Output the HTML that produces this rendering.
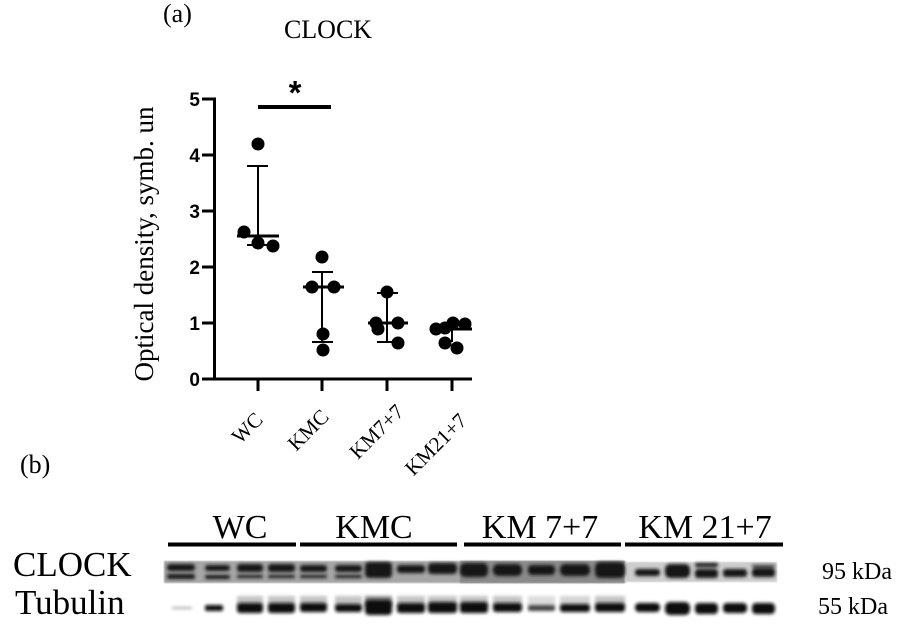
<!DOCTYPE html>
<html><head><meta charset="utf-8"><style>
html,body{margin:0;padding:0;background:#fff;}
svg{display:block;}
text{font-family:"Liberation Serif",serif;fill:#000;}
.s{font-family:"Liberation Sans",sans-serif;font-weight:bold;}
</style></head><body>
<svg width="902" height="631" viewBox="0 0 902 631" xmlns="http://www.w3.org/2000/svg">
<defs>
<filter id="b" x="-30%" y="-80%" width="160%" height="260%"><feGaussianBlur stdDeviation="1.6"/></filter>
<filter id="b2" x="-30%" y="-80%" width="160%" height="260%"><feGaussianBlur stdDeviation="0.8"/></filter>
</defs>
<rect width="902" height="631" fill="#fff"/>

<!-- panel a -->
<text x="163" y="22" font-size="26">(a)</text>
<text x="328" y="38" font-size="26" text-anchor="middle">CLOCK</text>
<text transform="translate(153,244) rotate(-90)" font-size="27" text-anchor="middle">Optical density, symb. un</text>

<g class="s" font-size="19" text-anchor="end">
<text class="s" x="200" y="106">5</text>
<text class="s" x="200" y="162">4</text>
<text class="s" x="200" y="218">3</text>
<text class="s" x="200" y="274">2</text>
<text class="s" x="200" y="330">1</text>
<text class="s" x="200" y="386">0</text>
</g>
<g stroke="#000" stroke-width="3" fill="none">
<line x1="214.5" y1="97.5" x2="214.5" y2="380.5"/>
<line x1="213" y1="379" x2="472" y2="379"/>
<line x1="202" y1="99" x2="214" y2="99"/>
<line x1="202" y1="155" x2="214" y2="155"/>
<line x1="202" y1="211" x2="214" y2="211"/>
<line x1="202" y1="267" x2="214" y2="267"/>
<line x1="202" y1="323" x2="214" y2="323"/>
<line x1="202" y1="379" x2="214" y2="379"/>
<line x1="258" y1="379" x2="258" y2="391"/>
<line x1="322" y1="379" x2="322" y2="391"/>
<line x1="387" y1="379" x2="387" y2="391"/>
<line x1="452" y1="379" x2="452" y2="391"/>
</g>

<g font-size="21" text-anchor="end">
<text transform="translate(264,421) rotate(-45)">WC</text>
<text transform="translate(330,418) rotate(-45)">KMC</text>
<text transform="translate(405,413) rotate(-45)">KM7+7</text>
<text transform="translate(468,422) rotate(-45)">KM21+7</text>
</g>

<!-- significance -->
<line x1="258" y1="107" x2="331" y2="107" stroke="#000" stroke-width="4"/>
<text class="s" x="295" y="104" font-size="33" text-anchor="middle">*</text>

<!-- error bars -->
<g stroke="#000" stroke-width="2" fill="none">
<line x1="258" y1="166" x2="258" y2="245"/>
<line x1="247" y1="166" x2="268" y2="166"/>
<line x1="247" y1="245" x2="268" y2="245"/>
<line x1="322" y1="272" x2="322" y2="342"/>
<line x1="312" y1="272" x2="333" y2="272"/>
<line x1="312" y1="342" x2="333" y2="342"/>
<line x1="387" y1="293" x2="387" y2="342"/>
<line x1="377" y1="293" x2="398" y2="293"/>
<line x1="377" y1="342" x2="398" y2="342"/>
<line x1="452" y1="322" x2="452" y2="342"/>
</g>
<g stroke="#000" stroke-width="3">
<line x1="237" y1="236" x2="279" y2="236"/>
<line x1="303" y1="287" x2="344" y2="287"/>
<line x1="368" y1="323" x2="408" y2="323"/>
<line x1="433" y1="329" x2="472" y2="329"/>
</g>
<g fill="#000">
<circle cx="258" cy="144" r="6.5"/>
<circle cx="244" cy="232" r="6.5"/>
<circle cx="258" cy="243" r="6.5"/>
<circle cx="273" cy="246" r="6.5"/>
<circle cx="322" cy="257" r="6.5"/>
<circle cx="312" cy="287" r="6.5"/>
<circle cx="334" cy="287" r="6.5"/>
<circle cx="323" cy="334" r="6.5"/>
<circle cx="323" cy="350" r="6.5"/>
<circle cx="387" cy="292" r="6.5"/>
<circle cx="376" cy="323" r="6.5"/>
<circle cx="378" cy="329" r="6.5"/>
<circle cx="398" cy="323" r="6.5"/>
<circle cx="398" cy="343" r="6.5"/>
<circle cx="436" cy="329" r="6.5"/>
<circle cx="445" cy="328" r="6.5"/>
<circle cx="453" cy="323" r="6.5"/>
<circle cx="465" cy="324" r="6.5"/>
<circle cx="445" cy="343" r="6.5"/>
<circle cx="457" cy="348" r="6.5"/>
</g>

<!-- panel b -->
<text x="20" y="473" font-size="26">(b)</text>
<g font-size="34" text-anchor="middle">
<text x="240" y="538">WC</text>
<text x="374" y="538">KMC</text>
<text x="540" y="538">KM 7+7</text>
<text x="705" y="538">KM 21+7</text>
</g>
<g stroke="#000" stroke-width="4">
<line x1="168" y1="544.5" x2="296" y2="544.5"/>
<line x1="300" y1="544.5" x2="457" y2="544.5"/>
<line x1="464" y1="544.5" x2="621" y2="544.5"/>
<line x1="625" y1="544.5" x2="783" y2="544.5"/>
</g>
<text x="13" y="576" font-size="35">CLOCK</text>
<text x="15" y="614" font-size="35">Tubulin</text>
<text x="822" y="579" font-size="24">95 kDa</text>
<text x="818" y="614" font-size="24">55 kDa</text>

<!-- CLOCK blot strip -->
<rect x="164" y="561" width="461" height="22" fill="#a6a6a6" filter="url(#b2)"/>
<rect x="460" y="561" width="165" height="22" fill="#8a8a8a" filter="url(#b2)"/>
<rect x="625" y="562" width="152" height="20" fill="#cdcdcd" filter="url(#b2)"/>
<g fill="#151515" filter="url(#b)">
<!-- WC -->
<rect x="167" y="564" width="28" height="7" rx="3"/>
<rect x="167" y="574" width="28" height="5" rx="2"/>
<rect x="205" y="565" width="25" height="6" rx="3"/>
<rect x="205" y="575" width="25" height="4" rx="2"/>
<rect x="237" y="564" width="26" height="8" rx="3"/>
<rect x="237" y="575" width="26" height="3" rx="1"/>
<rect x="268" y="564" width="27" height="8" rx="3"/>
<rect x="268" y="575" width="27" height="3" rx="1"/>
<!-- KMC -->
<rect x="300" y="565" width="27" height="7" rx="3"/>
<rect x="300" y="575" width="27" height="3" rx="1"/>
<rect x="335" y="565" width="27" height="7" rx="3"/>
<rect x="335" y="575" width="27" height="3" rx="1"/>
<rect x="365" y="562" width="27" height="16" rx="4"/>
<rect x="397" y="565" width="28" height="8" rx="3"/>
<rect x="428" y="563" width="29" height="11" rx="4"/>
<!-- KM7+7 -->
<rect x="460" y="563" width="28" height="14" rx="5"/>
<rect x="493" y="564" width="29" height="12" rx="5"/>
<rect x="528" y="565" width="27" height="10" rx="4"/>
<rect x="560" y="564" width="30" height="12" rx="5"/>
<rect x="595" y="562" width="30" height="16" rx="5"/>
<!-- KM21+7 -->
<rect x="635" y="569" width="25" height="7" rx="3"/>
<rect x="665" y="564" width="25" height="14" rx="5"/>
<rect x="695" y="563" width="23" height="4" rx="2"/>
<rect x="695" y="569" width="23" height="9" rx="3"/>
<rect x="723" y="569" width="24" height="8" rx="3"/>
<rect x="752" y="565" width="23" height="2" rx="1"/>
<rect x="752" y="568" width="23" height="9" rx="3"/>
</g>

<!-- Tubulin strip -->
<g fill="#c4c4c4" filter="url(#b)">
<rect x="237" y="596" width="26" height="10"/>
<rect x="268" y="596" width="27" height="10"/>
<rect x="300" y="596" width="27" height="10"/>
<rect x="335" y="596" width="27" height="10"/>
<rect x="365" y="596" width="27" height="10" fill="#888"/>
<rect x="397" y="596" width="28" height="10"/>
<rect x="428" y="596" width="29" height="10"/>
<rect x="460" y="596" width="28" height="10"/>
<rect x="493" y="596" width="29" height="10"/>
<rect x="528" y="596" width="27" height="10" fill="#ddd"/>
<rect x="560" y="596" width="30" height="10" fill="#d4d4d4"/>
<rect x="595" y="596" width="30" height="10"/>
</g>
<g fill="#111" filter="url(#b)">
<rect x="172" y="607" width="20" height="2" fill="#aaa"/>
<rect x="205" y="605" width="18" height="6" rx="2"/>
<rect x="237" y="603" width="26" height="10" rx="3"/>
<rect x="268" y="603" width="27" height="10" rx="3"/>
<rect x="300" y="603" width="27" height="9" rx="3"/>
<rect x="335" y="604" width="27" height="8" rx="3"/>
<rect x="365" y="600" width="27" height="15" rx="4"/>
<rect x="397" y="603" width="28" height="10" rx="3"/>
<rect x="428" y="602" width="29" height="11" rx="3"/>
<rect x="460" y="602" width="28" height="11" rx="3"/>
<rect x="493" y="603" width="29" height="9" rx="3"/>
<rect x="528" y="605" width="27" height="6" rx="2" fill="#444"/>
<rect x="560" y="604" width="30" height="8" rx="3"/>
<rect x="595" y="603" width="30" height="9" rx="3"/>
<rect x="635" y="603" width="25" height="9" rx="4"/>
<rect x="665" y="602" width="25" height="13" rx="5"/>
<rect x="695" y="603" width="23" height="11" rx="4"/>
<rect x="723" y="603" width="24" height="10" rx="4"/>
<rect x="752" y="603" width="23" height="11" rx="4"/>
</g>
</svg>
</body></html>
